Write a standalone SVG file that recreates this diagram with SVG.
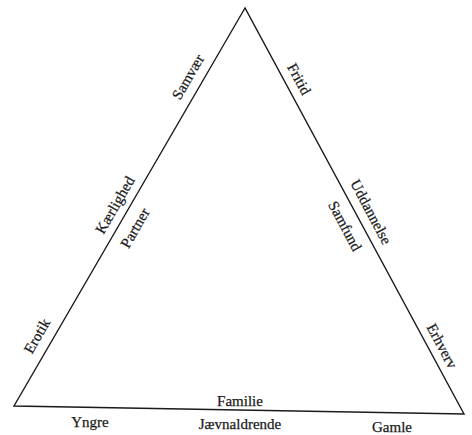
<svg xmlns="http://www.w3.org/2000/svg" width="472" height="435" viewBox="0 0 472 435">
<style>
.t{font-family:"Liberation Serif","Times New Roman",serif;font-size:15px;fill:#1a1a1a;stroke:#1a1a1a;stroke-width:0.25;text-anchor:middle;dominant-baseline:central}
.e{stroke:#1a1a1a;stroke-width:1.4;fill:none}
</style>
<rect width="472" height="435" fill="#fff"/>
<g id="connectors">
<path class="e" d="M245,8 L14,406 L464,414 Z" stroke-linejoin="miter"/>
</g>
<g id="left-labels">
<text class="t" transform="translate(188,77) rotate(-60)">Samvær</text>
<text class="t" transform="translate(115,205) rotate(-60)">Kærlighed</text>
<text class="t" transform="translate(135,228) rotate(-60)">Partner</text>
<text class="t" transform="translate(37,336) rotate(-60)">Erotik</text>
</g>
<g id="right-labels">
<text class="t" transform="translate(299,79) rotate(62)">Fritid</text>
<text class="t" transform="translate(371,212) rotate(62)">Uddannelse</text>
<text class="t" transform="translate(345,226) rotate(62)">Samfund</text>
<text class="t" transform="translate(442,346) rotate(62)">Erhverv</text>
</g>
<g id="bottom-labels">
<text class="t" x="240" y="401">Familie</text>
<text class="t" x="90" y="422">Yngre</text>
<text class="t" x="240" y="424">Jævnaldrende</text>
<text class="t" x="392" y="427">Gamle</text>
</g>
</svg>
